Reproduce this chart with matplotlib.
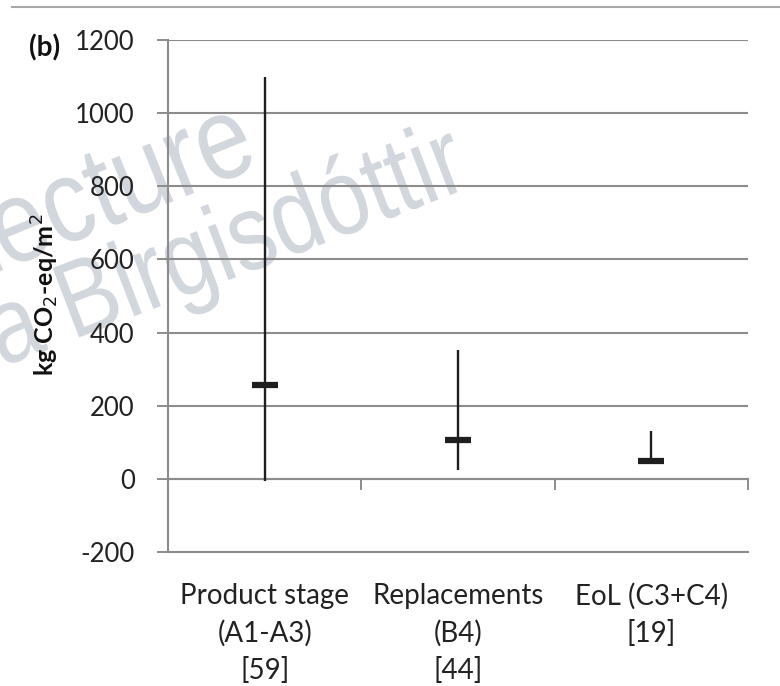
import matplotlib
matplotlib.use("Agg")
import matplotlib.pyplot as plt
from matplotlib.lines import Line2D
from matplotlib.textpath import TextPath
from matplotlib.patches import PathPatch
from matplotlib.transforms import Affine2D
from matplotlib.font_manager import FontProperties

# ---- data ----
categories = ["Product stage\n(A1-A3)\n[59]", "Replacements\n(B4)\n[44]", "EoL (C3+C4)\n[19]"]
mean_vals = [258, 105, 49]
min_vals = [-5, 23, 49]
max_vals = [1100, 353, 130]
yticks = [-200, 0, 200, 400, 600, 800, 1000, 1200]

FONT = "Lato"
dark = "#1e1e1e"
grid_c = "#8c8c8c"

fig = plt.figure(figsize=(7.8, 6.86), dpi=100)
ax = fig.add_axes([168/780, 1-552/686, (748-168)/780, (552-40)/686])

x = list(range(1, len(categories)+1))
ax.set_xlim(0.5, len(categories)+0.5)
ax.set_ylim(-200, 1200)

# gridlines
ax.set_yticks(yticks)
ax.set_yticklabels([str(v) for v in yticks], fontsize=18.5, family=FONT, color="#222222")
ax.yaxis.grid(True, color=grid_c, linewidth=1.5)
ax.tick_params(axis="y", direction="out", length=8, width=1.4, color=grid_c, pad=16)

for s in ["top", "right"]:
    ax.spines[s].set_visible(False)
ax.spines["left"].set_color(grid_c)
ax.spines["left"].set_linewidth(1.5)
ax.spines["bottom"].set_color(grid_c)
ax.spines["bottom"].set_linewidth(1.5)

# category labels (below bottom)
ax.set_xticks(x)
ax.set_xticklabels(categories, fontsize=20, family=FONT, color="#222222", linespacing=1.5)
ax.tick_params(axis="x", length=0, pad=22)

# secondary x-axis at value 0 with boundary ticks
sec = ax.secondary_xaxis(200/1400)
sec.set_xticks([0.5 + i for i in range(len(categories)+1)])
sec.set_xticklabels([])
sec.tick_params(direction="out", length=8, width=1.4, color=grid_c)
sec.spines["bottom"].set_color(grid_c)
sec.spines["bottom"].set_linewidth(1.5)

# error bars and means
ax.vlines(x, min_vals, max_vals, color=dark, linewidth=1.7, zorder=4)
ax.plot(x, mean_vals, linestyle="none", marker="_", markersize=19,
        markeredgewidth=4.5, color=dark, zorder=5)

# y label and panel label
fig.text(45/780, 1-295/686, "kg CO$_2$-eq/m$^2$", rotation=90, ha="center", va="center",
         fontsize=18, fontweight="bold", family=FONT, color="#111111")
fig.text(45/780, 1-48/686, "(b)", ha="center", va="center", fontsize=20,
         fontweight="bold", family=FONT, color="#111111")

# top separator line
fig.add_artist(Line2D([12/780, 1.0], [1-7/686, 1-7/686], color="#a8a8a8", linewidth=1.5))

# watermark (condensed glyph outlines in pixel coordinates)
wm_c = "#d2d6dd"
wm_fp = FontProperties(family="Liberation Sans")

def watermark(text, x0, y0, size, angle, squeeze):
    tp = TextPath((0, 0), text, size=size, prop=wm_fp)
    tr = Affine2D().scale(squeeze, 1.0).rotate_deg(angle).translate(x0, y0)
    fig.add_artist(PathPatch(tp, transform=tr, facecolor=wm_c, edgecolor="none", zorder=2))

watermark("Lecture", -45, 396.5, 118, 22, 0.84)
watermark("a Birgisdóttir", 1.6, 318.8, 108, 21, 0.84)

ax.set_zorder(3)
ax.patch.set_alpha(0)

fig.savefig("out.png", dpi=100)
